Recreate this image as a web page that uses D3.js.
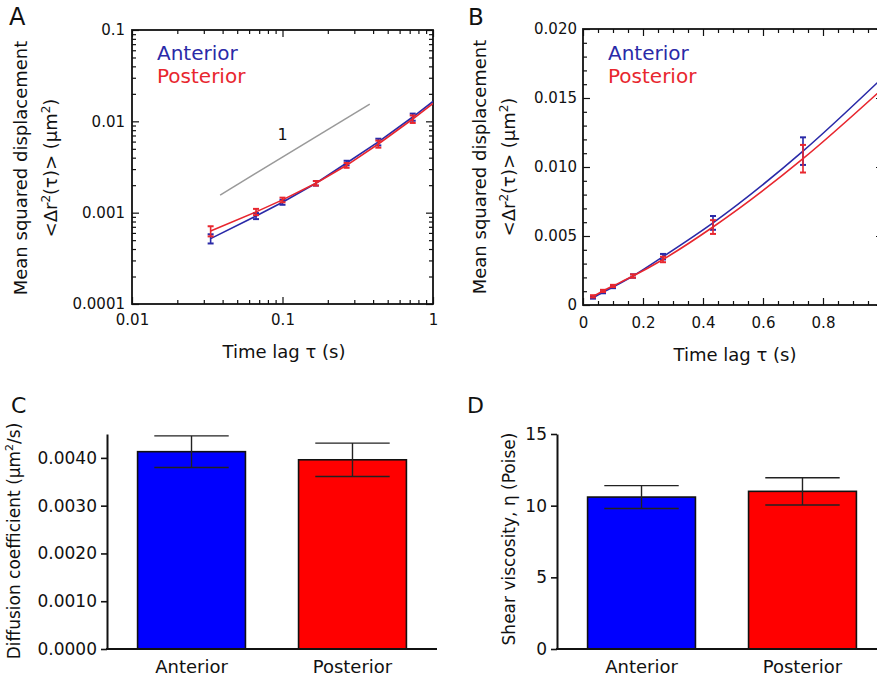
<!DOCTYPE html>
<html><head><meta charset="utf-8">
<script src="https://cdn.jsdelivr.net/npm/d3@7"></script>
<style>
body{margin:0;background:#fff}
svg{display:block}
text{font-family:"DejaVu Sans",sans-serif;fill:#111}
</style>
</head><body>
<svg id="c" width="877" height="679"></svg>
<script>
// ---------- data ----------
const seriesNames = ["Anterior", "Posterior"];
const seriesColors = ["#2a2aa8", "#e8262e"];
const barColors = ["#0000ff", "#ff0000"];

const tau = [0.0333, 0.0667, 0.1, 0.1667, 0.2667, 0.4333, 0.7333];
const anteriorMSD = [0.00052, 0.00092, 0.00130, 0.00210, 0.00350, 0.00595, 0.01115];
const anteriorErr = [0.00006, 0.00007, 0.00008, 0.00012, 0.00020, 0.00050, 0.00100];
const posteriorMSD = [0.00063, 0.00102, 0.00138, 0.00210, 0.00330, 0.00565, 0.01060];
const posteriorErr = [0.00008, 0.00008, 0.00008, 0.00012, 0.00020, 0.00050, 0.00100];
// fitted curves extend to tau = 1 s
const fitTau = [0.0333, 0.0667, 0.1, 0.1667, 0.2667, 0.4333, 0.7333, 1.0];
const anteriorFit = [0.00052, 0.00092, 0.00130, 0.00210, 0.00350, 0.00595, 0.01115, 0.0165];
const posteriorFit = [0.00063, 0.00102, 0.00138, 0.00210, 0.00330, 0.00565, 0.01060, 0.0157];
// slope-1 guide line in panel A
const guideX = [0.0385, 0.38];
const guideY = [0.00156, 0.0154];
const guideLabelPos = [0.1, 0.0062];

const aXTicks = [0.01, 0.1, 1], aXLabels = ["0.01", "0.1", "1"];
const aYTicks = [0.0001, 0.001, 0.01, 0.1], aYLabels = ["0.0001", "0.001", "0.01", "0.1"];
const bXTicks = [0, 0.2, 0.4, 0.6, 0.8], bXLabels = ["0", "0.2", "0.4", "0.6", "0.8"];
const bYTicks = [0, 0.005, 0.010, 0.015, 0.020], bYLabels = ["0", "0.005", "0.010", "0.015", "0.020"];

const diffusion = [0.00413, 0.00396];
const diffusionErr = [0.00033, 0.00035];
const cYTicks = [0, 0.001, 0.002, 0.003, 0.004], cYLabels = ["0.0000", "0.0010", "0.0020", "0.0030", "0.0040"];

const viscosity = [10.6, 11.0];
const viscosityErr = [0.8, 0.95];
const dYTicks = [0, 5, 10, 15], dYLabels = ["0", "5", "10", "15"];

// ---------- drawing ----------
const svg = d3.select("#c");
const series = [
  {name: seriesNames[0], color: seriesColors[0], y: anteriorMSD, e: anteriorErr, fit: anteriorFit},
  {name: seriesNames[1], color: seriesColors[1], y: posteriorMSD, e: posteriorErr, fit: posteriorFit}
];

function labelFmt(ticks, labels) { return d => labels[ticks.indexOf(d)] ?? ""; }

function boxAxes(g, x, y, xt, xl, xminor, yt, yl, yminor, xPad, yPad, xEdgeTicks) {
  const [x0, x1] = x.range(), [y0, y1] = y.range();
  const axStyle = s => s.call(a => a.select(".domain").remove())
    .call(a => a.selectAll("line").attr("stroke", "#111").attr("stroke-width", 1.2))
    .call(a => a.selectAll("text").attr("font-size", 15).attr("fill", "#111"));
  const xtAll = xEdgeTicks || xt;
  // major
  g.append("g").attr("transform", `translate(0,${y0})`)
    .call(d3.axisBottom(x).tickValues(xt).tickFormat(labelFmt(xt, xl)).tickSize(-7).tickPadding(xPad)).call(axStyle);
  g.append("g").attr("transform", `translate(0,${y1})`)
    .call(d3.axisTop(x).tickValues(xtAll).tickFormat("").tickSize(-7)).call(axStyle);
  g.append("g").attr("transform", `translate(${x0},0)`)
    .call(d3.axisLeft(y).tickValues(yt).tickFormat(labelFmt(yt, yl)).tickSize(-7).tickPadding(yPad)).call(axStyle);
  g.append("g").attr("transform", `translate(${x1},0)`)
    .call(d3.axisRight(y).tickValues(yt).tickFormat("").tickSize(-7)).call(axStyle);
  // minor
  g.append("g").attr("transform", `translate(0,${y0})`)
    .call(d3.axisBottom(x).tickValues(xminor).tickFormat("").tickSize(-4)).call(axStyle);
  g.append("g").attr("transform", `translate(0,${y1})`)
    .call(d3.axisTop(x).tickValues(xminor).tickFormat("").tickSize(-4)).call(axStyle);
  g.append("g").attr("transform", `translate(${x0},0)`)
    .call(d3.axisLeft(y).tickValues(yminor).tickFormat("").tickSize(-4)).call(axStyle);
  g.append("g").attr("transform", `translate(${x1},0)`)
    .call(d3.axisRight(y).tickValues(yminor).tickFormat("").tickSize(-4)).call(axStyle);
  g.append("rect").attr("x", x0).attr("y", y1).attr("width", x1 - x0).attr("height", y0 - y1)
    .attr("fill", "none").attr("stroke", "#111").attr("stroke-width", 1.8);
}

function msdTitles(g, cx1, cx2, cy, xcx, xcy) {
  g.append("text").attr("transform", `translate(${cx1},${cy}) rotate(-90)`)
    .attr("text-anchor", "middle").attr("font-size", 18).text("Mean squared displacement");
  const t = g.append("text").attr("transform", `translate(${cx2},${cy}) rotate(-90)`)
    .attr("text-anchor", "middle").attr("font-size", 18);
  t.append("tspan").text("<Δr");
  t.append("tspan").attr("font-size", 12).attr("dy", -7).text("2");
  t.append("tspan").attr("dy", 7).text("(τ)> (μm");
  t.append("tspan").attr("font-size", 12).attr("dy", -7).text("2");
  t.append("tspan").attr("dy", 7).text(")");
  g.append("text").attr("x", xcx).attr("y", xcy).attr("text-anchor", "middle")
    .attr("font-size", 18).text("Time lag τ (s)");
}

function legend(g, x, y) {
  series.forEach((s, i) => g.append("text").attr("x", x).attr("y", y + i * 23)
    .attr("font-size", 20).attr("fill", s.color).style("fill", s.color).text(s.name));
}

function drawSeries(g, x, y, curve, clipId) {
  series.forEach(s => {
    const pts = tau.map((t, i) => ({t, v: s.y[i], e: s.e[i]}));
    const fit = fitTau.map((t, i) => ({t, v: s.fit[i]}));
    g.append("path").datum(fit).attr("clip-path", `url(#${clipId})`)
      .attr("d", d3.line().x(d => x(d.t)).y(d => y(d.v)).curve(curve))
      .attr("fill", "none").attr("stroke", s.color).attr("stroke-width", 1.6);
    const eg = g.append("g").attr("stroke", s.color).attr("stroke-width", 1.6);
    pts.forEach(d => {
      const xx = x(d.t), ya = y(d.v + d.e), yb = y(d.v - d.e);
      eg.append("line").attr("x1", xx).attr("x2", xx).attr("y1", ya).attr("y2", yb);
      eg.append("line").attr("x1", xx - 3).attr("x2", xx + 3).attr("y1", ya).attr("y2", ya).attr("stroke-width", 2);
      eg.append("line").attr("x1", xx - 3).attr("x2", xx + 3).attr("y1", yb).attr("y2", yb).attr("stroke-width", 2);
    });
  });
}

const defs = svg.append("defs");

// ---------- Panel A ----------
{
  const g = svg.append("g");
  const x = d3.scaleLog().domain([0.01, 1]).range([132, 433]);
  const y = d3.scaleLog().domain([0.0001, 0.1]).range([304, 30]);
  defs.append("clipPath").attr("id", "clipA").append("rect")
    .attr("x", 132).attr("y", 30).attr("width", 301).attr("height", 274);
  const xminor = [], yminor = [];
  aXTicks.slice(0, -1).forEach(d => d3.range(2, 10).forEach(k => xminor.push(d * k)));
  aYTicks.slice(0, -1).forEach(d => d3.range(2, 10).forEach(k => yminor.push(d * k)));
  boxAxes(g, x, y, aXTicks, aXLabels, xminor, aYTicks, aYLabels, yminor, 10, 7);
  g.append("line").attr("x1", x(guideX[0])).attr("y1", y(guideY[0]))
    .attr("x2", x(guideX[1])).attr("y2", y(guideY[1]))
    .attr("stroke", "#9a9a9a").attr("stroke-width", 1.5);
  g.append("text").attr("x", x(guideLabelPos[0])).attr("y", y(guideLabelPos[1]))
    .attr("text-anchor", "middle").attr("font-size", 16).text("1");
  drawSeries(g, x, y, d3.curveLinear, "clipA");
  legend(g, 157, 60);
  msdTitles(g, 27, 57, 168, 284, 358);
  g.append("text").attr("x", 9).attr("y", 25).attr("font-size", 24).text("A");
}

// ---------- Panel B ----------
{
  const g = svg.append("g");
  const x = d3.scaleLinear().domain([0, 1]).range([583, 883]);
  const y = d3.scaleLinear().domain([0, 0.02]).range([305, 29]);
  defs.append("clipPath").attr("id", "clipB").append("rect")
    .attr("x", 583).attr("y", 29).attr("width", 300).attr("height", 276);
  const xminor = d3.range(0, 21).map(i => i * 0.05).filter((d, i) => i % 4 !== 0);
  const yminor = d3.range(0, 21).map(i => i * 0.001).filter((d, i) => i % 5 !== 0);
  boxAxes(g, x, y, bXTicks, bXLabels, xminor, bYTicks, bYLabels, yminor, 12, 6);
  drawSeries(g, x, y, d3.curveMonotoneX, "clipB");
  legend(g, 608, 60);
  msdTitles(g, 486, 515, 167, 735, 361);
  g.append("text").attr("x", 468).attr("y", 25).attr("font-size", 23).text("B");
}

// ---------- bar panels ----------
function barPanel(ox, values, errs, yDomain, ticks, labels, title, letter, letterX, titleX, titleY, xEnd) {
  const g = svg.append("g");
  const x = d3.scaleBand().domain(seriesNames).range([ox, ox + 330]).paddingInner(0.33).paddingOuter(0.19);
  const y = d3.scaleLinear().domain(yDomain).range([649, 434]);
  const data = seriesNames.map((n, i) => ({n, v: values[i], e: errs[i], c: barColors[i]}));
  g.selectAll("rect.bar").data(data).join("rect").attr("class", "bar")
    .attr("x", d => x(d.n)).attr("width", x.bandwidth())
    .attr("y", d => y(d.v)).attr("height", d => y(0) - y(d.v))
    .attr("fill", d => d.c).attr("stroke", "#111").attr("stroke-width", 1.6);
  const eg = g.append("g").attr("stroke", "#222").attr("stroke-width", 1.4);
  data.forEach(d => {
    const cx = x(d.n) + x.bandwidth() / 2, hw = x.bandwidth() * 0.345;
    eg.append("line").attr("x1", cx).attr("x2", cx).attr("y1", y(d.v + d.e)).attr("y2", y(d.v - d.e));
    eg.append("line").attr("x1", cx - hw).attr("x2", cx + hw).attr("y1", y(d.v + d.e)).attr("y2", y(d.v + d.e));
    eg.append("line").attr("x1", cx - hw).attr("x2", cx + hw).attr("y1", y(d.v - d.e)).attr("y2", y(d.v - d.e));
  });
  const ya = g.append("g").attr("transform", `translate(${ox},0)`)
    .call(d3.axisLeft(y).tickValues(ticks).tickFormat(labelFmt(ticks, labels)).tickSize(6).tickSizeOuter(0).tickPadding(4));
  ya.select(".domain").attr("stroke", "#111").attr("stroke-width", 2);
  ya.selectAll("line").attr("stroke", "#111").attr("stroke-width", 1.6);
  ya.selectAll("text").attr("font-size", 17).attr("fill", "#111");
  g.append("line").attr("x1", ox - 1).attr("x2", xEnd).attr("y1", y(0)).attr("y2", y(0))
    .attr("stroke", "#111").attr("stroke-width", 2);
  const xa = g.append("g").attr("transform", `translate(0,${y(0)})`)
    .call(d3.axisBottom(x).tickSize(0).tickPadding(11));
  xa.select(".domain").remove();
  xa.selectAll("text").attr("font-size", 18).attr("fill", "#111");
  const t = g.append("text").attr("transform", `translate(${titleX},${titleY}) rotate(-90)`)
    .attr("text-anchor", "middle").attr("font-size", 17);
  title(t);
  g.append("text").attr("x", letterX).attr("y", 413).attr("font-size", 22).text(letter);
}

barPanel(107, diffusion, diffusionErr, [0, 0.0045], cYTicks, cYLabels, t => {
  t.append("tspan").text("Diffusion coefficient (μm");
  t.append("tspan").attr("font-size", 11).attr("dy", -7).text("2");
  t.append("tspan").attr("dy", 7).text("/s)");
}, "C", 11, 20, 541, 437);

barPanel(557, viscosity, viscosityErr, [0, 15], dYTicks, dYLabels, t => {
  t.text("Shear viscosity, η  (Poise)");
}, "D", 467, 515, 539, 877);
</script>
</body></html>
